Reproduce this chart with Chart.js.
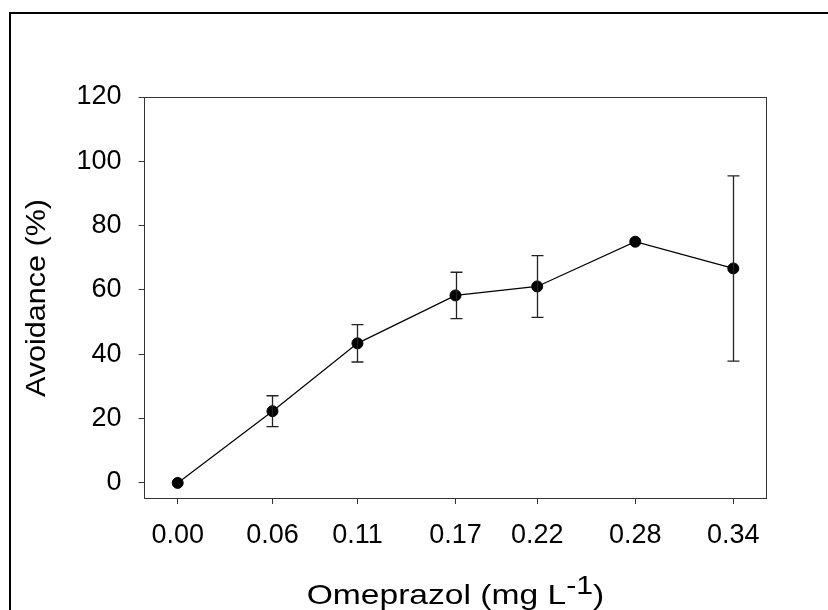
<!DOCTYPE html>
<html>
<head>
<meta charset="utf-8">
<script src="https://cdn.jsdelivr.net/npm/chart.js@4/dist/chart.umd.min.js"></script>
<style>
  html, body { margin: 0; padding: 0; background: #fff; }
  #wrap { width: 828px; height: 610px; position: relative; }
</style>
</head>
<body>
<div id="wrap"><canvas id="c" width="828" height="610"></canvas></div>
<script>
// ---- data ----
const concentrations = [0, 0.058, 0.11, 0.17, 0.22, 0.28, 0.34];
const xTickLabels = ['0.00', '0.06', '0.11', '0.17', '0.22', '0.28', '0.34'];
const avoidance = [0, 22.3, 43.4, 58.3, 61.1, 75.0, 66.7];
const avoidanceErr = [0, 4.8, 5.8, 7.2, 9.6, 0, 28.8];
const yTickValues = [0, 20, 40, 60, 80, 100, 120];
const xTitleMain = 'Omeprazol (mg L';
const xTitleSup = '-1';
const xTitleEnd = ')';
const yTitle = 'Avoidance (%)';

const FONT = "'Liberation Sans', Arial, sans-serif";

const points = concentrations.map((x, i) => ({ x: x, y: avoidance[i] }));

const decorPlugin = {
  id: 'decor',
  beforeDraw(chart) {
    const ctx = chart.ctx;
    ctx.save();
    ctx.fillStyle = '#fff';
    ctx.fillRect(0, 0, chart.width, chart.height);
    // outer frame (left and top edges visible)
    ctx.strokeStyle = '#000';
    ctx.lineWidth = 2;
    ctx.beginPath();
    ctx.moveTo(10, 610);
    ctx.lineTo(10, 13);
    ctx.lineTo(828, 13);
    ctx.stroke();
    ctx.restore();
  },
  afterDatasetsDraw(chart) {
    // error bars
    const ctx = chart.ctx;
    const xs = chart.scales.x, ys = chart.scales.y;
    ctx.save();
    ctx.strokeStyle = '#222';
    ctx.lineWidth = 1.3;
    concentrations.forEach((c, i) => {
      const e = avoidanceErr[i];
      if (!e) return;
      const px = Math.round(xs.getPixelForValue(c)) + 0.5;
      const top = ys.getPixelForValue(avoidance[i] + e);
      const bot = ys.getPixelForValue(avoidance[i] - e);
      ctx.beginPath();
      ctx.moveTo(px, top); ctx.lineTo(px, bot);
      ctx.moveTo(px - 6, top); ctx.lineTo(px + 6, top);
      ctx.moveTo(px - 6, bot); ctx.lineTo(px + 6, bot);
      ctx.stroke();
    });
    ctx.restore();
  },
  afterDraw(chart) {
    const ctx = chart.ctx;
    const a = chart.chartArea;
    ctx.save();
    // plot box
    ctx.strokeStyle = '#333';
    ctx.lineWidth = 1;
    ctx.strokeRect(Math.round(a.left) - 0.5, Math.round(a.top) + 0.5,
                   Math.round(a.right - a.left) + 1, Math.round(a.bottom - a.top) - 1);
    ctx.fillStyle = '#000';
    // x title with superscript
    const fs = 28, stretch = 1.2;
    ctx.font = fs + 'px ' + FONT;
    ctx.textBaseline = 'alphabetic';
    ctx.textAlign = 'left';
    const w1 = ctx.measureText(xTitleMain).width;
    const w2 = ctx.measureText(xTitleSup).width * 0.9;
    const w3 = ctx.measureText(xTitleEnd).width;
    const total = (w1 + w2 + w3) * stretch;
    const cx = (a.left + a.right) / 2;
    ctx.save();
    ctx.translate(cx - total / 2, 604);
    ctx.scale(stretch, 1);
    ctx.fillText(xTitleMain, 0, 0);
    ctx.font = (fs * 0.9) + 'px ' + FONT;
    ctx.fillText(xTitleSup, w1, -10);
    ctx.font = fs + 'px ' + FONT;
    ctx.fillText(xTitleEnd, w1 + w2, 0);
    ctx.restore();
    // y title
    ctx.save();
    ctx.font = '27.5px ' + FONT;
    ctx.textAlign = 'center';
    ctx.textBaseline = 'alphabetic';
    ctx.translate(45, (a.top + a.bottom) / 2);
    ctx.rotate(-Math.PI / 2);
    ctx.scale(1.11, 1);
    ctx.fillText(yTitle, 0, 0);
    ctx.restore();
    ctx.restore();
  }
};

new Chart(document.getElementById('c'), {
  type: 'line',
  data: {
    datasets: [{
      data: points,
      borderColor: '#000',
      borderWidth: 1.2,
      backgroundColor: '#000',
      pointBackgroundColor: '#000',
      pointBorderColor: '#000',
      pointRadius: 5.5,
      pointBorderWidth: 1,
      pointHoverRadius: 5.5,
      tension: 0,
      fill: false
    }]
  },
  options: {
    responsive: false,
    animation: false,
    events: [],
    layout: { padding: { left: 0, top: 97, right: 62, bottom: 0 } },
    plugins: { legend: { display: false }, tooltip: { enabled: false } },
    scales: {
      x: {
        type: 'linear',
        min: -0.02,
        max: 0.36,
        afterBuildTicks: s => { s.ticks = concentrations.map(v => ({ value: v })); },
        afterFit: s => { s.height = 111; },
        ticks: {
          callback: (v, i) => xTickLabels[i],
          font: { family: FONT, size: 27 },
          color: '#000',
          padding: 15,
          maxRotation: 0,
          autoSkip: false
        },
        grid: { display: true, drawOnChartArea: false, drawTicks: true, tickLength: 5, color: '#333', lineWidth: 1 },
        border: { display: false }
      },
      y: {
        min: -5,
        max: 120,
        afterBuildTicks: s => { s.ticks = yTickValues.map(v => ({ value: v })); },
        afterFit: s => { s.width = 145; },
        ticks: {
          callback: v => String(v),
          font: { family: FONT, size: 27 },
          color: '#000',
          padding: 17
        },
        grid: { display: true, drawOnChartArea: false, drawTicks: true, tickLength: 6.5, color: '#333', lineWidth: 1 },
        border: { display: false }
      }
    }
  },
  plugins: [decorPlugin]
});
</script>
</body>
</html>
